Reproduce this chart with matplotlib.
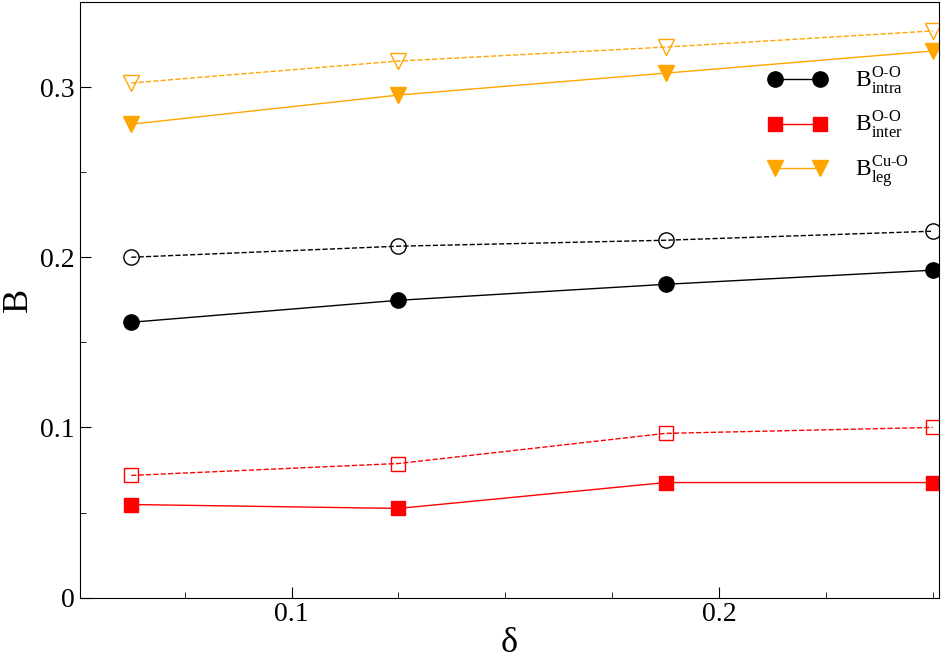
import matplotlib
matplotlib.use("Agg")
import matplotlib.pyplot as plt

plt.rcParams['font.family'] = ['Liberation Serif', 'DejaVu Serif']
plt.rcParams['mathtext.fontset'] = 'custom'
plt.rcParams['mathtext.rm'] = 'Liberation Serif'

delta = [0.0625, 0.125, 0.1875, 0.25]
intra_solid = [0.1618, 0.1747, 0.1841, 0.1924]
intra_open = [0.2000, 0.2065, 0.2100, 0.2153]
inter_solid = [0.0547, 0.0524, 0.0676, 0.0676]
inter_open = [0.0718, 0.0788, 0.0965, 0.1000]
leg_solid = [0.2782, 0.2953, 0.3082, 0.3212]
leg_open = [0.3024, 0.3153, 0.3235, 0.3330]

orange = '#FFA500'
fig = plt.figure(figsize=(9.41, 6.64), dpi=100)
ax = fig.add_axes([0.085, 0.1, 0.913, 0.897])

ax.plot(delta, intra_solid, '-', color='black', marker='o', ms=11, lw=1,
        label=r'$\mathrm{B}^{\mathrm{O\text{-}O}}_{\mathrm{intra}}$')
ax.plot(delta, inter_solid, '-', color='red', marker='s', ms=10, lw=1,
        label=r'$\mathrm{B}^{\mathrm{O\text{-}O}}_{\mathrm{inter}}$')
ax.plot(delta, leg_solid, '-', color=orange, marker='v', ms=11, lw=1,
        label=r'$\mathrm{B}^{\mathrm{Cu\text{-}O}}_{\mathrm{leg}}$')
ax.plot(delta, intra_open, '--', color='black', marker='o', ms=11, lw=1, mfc='none')
ax.plot(delta, inter_open, '--', color='red', marker='s', ms=10, lw=1, mfc='none')
ax.plot(delta, leg_open, '--', color=orange, marker='v', ms=11, lw=1, mfc='none')

ax.set_xlim(0.0505, 0.2515)
ax.set_ylim(0, 0.35)
ax.set_xticks([0.1, 0.2])
ax.set_xticklabels(['0.1', '0.2'])
ax.set_yticks([0, 0.1, 0.2, 0.3])
ax.set_yticklabels(['0', '0.1', '0.2', '0.3'])
ax.tick_params(direction='in', labelsize=20, length=8)
ax.set_xticks([0.075, 0.125, 0.15, 0.175, 0.225, 0.25], minor=True)
ax.set_yticks([0.05, 0.15, 0.25], minor=True)
ax.tick_params(which='minor', direction='in', length=4)
ax.set_xlabel('δ', fontsize=26, labelpad=0)
ax.set_ylabel('B', fontsize=26)
ax.legend(loc='upper right', bbox_to_anchor=(0.99, 0.93), frameon=False,
          fontsize=17, handlelength=2.5, labelspacing=0.5, numpoints=2,
          handletextpad=1.2)
fig.savefig('out.png')
